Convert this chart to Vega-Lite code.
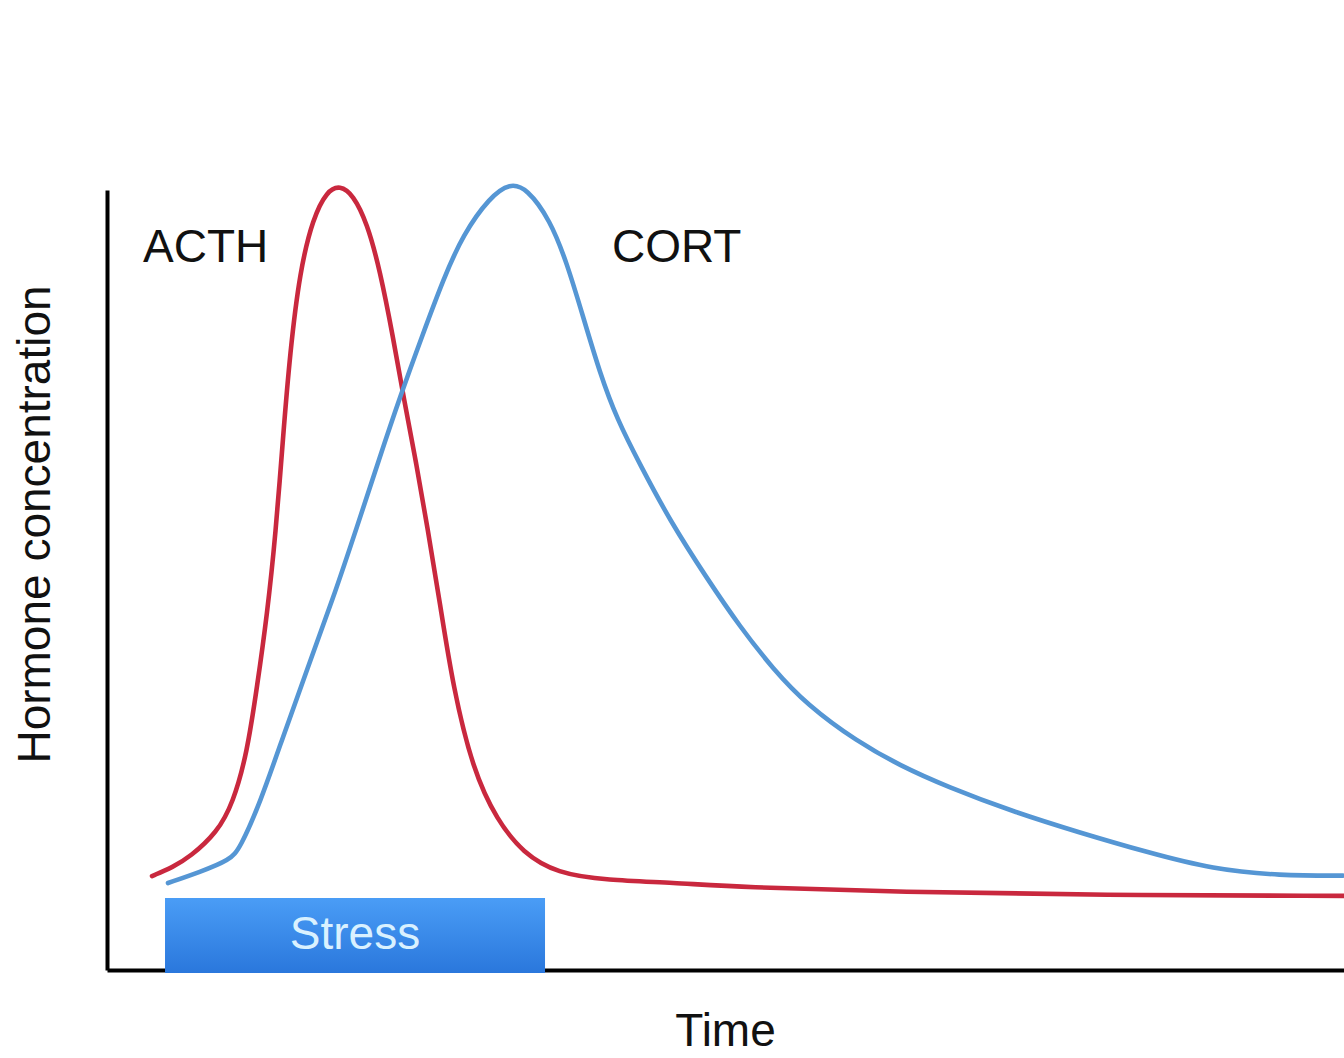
{
  "$schema": "https://vega.github.io/schema/vega-lite/v6.json",
  "width": 1237,
  "height": 780,
  "autosize": {"type": "none"},
  "padding": {"left": 107, "top": 190, "right": 0, "bottom": 88},
  "background": "white",
  "config": {"view": {"stroke": null}, "font": "Liberation Sans"},
  "datasets": {
    "curves": [
      {"hormone": "ACTH", "t": 3.64, "c": 12.05},
      {"hormone": "ACTH", "t": 5.34, "c": 13.2},
      {"hormone": "ACTH", "t": 6.71, "c": 14.5},
      {"hormone": "ACTH", "t": 8.89, "c": 17.6},
      {"hormone": "ACTH", "t": 10.19, "c": 21.4},
      {"hormone": "ACTH", "t": 11.32, "c": 27.8},
      {"hormone": "ACTH", "t": 12.13, "c": 36.3},
      {"hormone": "ACTH", "t": 12.94, "c": 45.5},
      {"hormone": "ACTH", "t": 13.64, "c": 56.0},
      {"hormone": "ACTH", "t": 14.23, "c": 68.3},
      {"hormone": "ACTH", "t": 14.79, "c": 79.1},
      {"hormone": "ACTH", "t": 15.6, "c": 89.7},
      {"hormone": "ACTH", "t": 16.65, "c": 96.4},
      {"hormone": "ACTH", "t": 17.79, "c": 99.9},
      {"hormone": "ACTH", "t": 18.84, "c": 100.6},
      {"hormone": "ACTH", "t": 19.89, "c": 99.4},
      {"hormone": "ACTH", "t": 21.02, "c": 95.8},
      {"hormone": "ACTH", "t": 22.07, "c": 89.7},
      {"hormone": "ACTH", "t": 23.12, "c": 81.2},
      {"hormone": "ACTH", "t": 24.0, "c": 73.2},
      {"hormone": "ACTH", "t": 25.0, "c": 65.0},
      {"hormone": "ACTH", "t": 25.9, "c": 56.8},
      {"hormone": "ACTH", "t": 26.92, "c": 47.0},
      {"hormone": "ACTH", "t": 27.97, "c": 36.3},
      {"hormone": "ACTH", "t": 29.59, "c": 25.6},
      {"hormone": "ACTH", "t": 31.53, "c": 19.2},
      {"hormone": "ACTH", "t": 33.63, "c": 15.0},
      {"hormone": "ACTH", "t": 36.38, "c": 12.4},
      {"hormone": "ACTH", "t": 40.42, "c": 11.5},
      {"hormone": "ACTH", "t": 45.76, "c": 11.2},
      {"hormone": "ACTH", "t": 51.17, "c": 10.6},
      {"hormone": "ACTH", "t": 64.11, "c": 10.0},
      {"hormone": "ACTH", "t": 80.27, "c": 9.6},
      {"hormone": "ACTH", "t": 100, "c": 9.5},
      {"hormone": "CORT", "t": 4.93, "c": 11.15},
      {"hormone": "CORT", "t": 7.52, "c": 12.56},
      {"hormone": "CORT", "t": 9.94, "c": 14.1},
      {"hormone": "CORT", "t": 10.75, "c": 15.6},
      {"hormone": "CORT", "t": 12.37, "c": 21.4},
      {"hormone": "CORT", "t": 14.23, "c": 29.9},
      {"hormone": "CORT", "t": 16.17, "c": 38.5},
      {"hormone": "CORT", "t": 18.27, "c": 47.6},
      {"hormone": "CORT", "t": 20.21, "c": 56.8},
      {"hormone": "CORT", "t": 22.0, "c": 65.5},
      {"hormone": "CORT", "t": 23.69, "c": 73.5},
      {"hormone": "CORT", "t": 25.55, "c": 81.6},
      {"hormone": "CORT", "t": 27.2, "c": 88.6},
      {"hormone": "CORT", "t": 28.78, "c": 94.3},
      {"hormone": "CORT", "t": 30.96, "c": 99.1},
      {"hormone": "CORT", "t": 32.58, "c": 100.9},
      {"hormone": "CORT", "t": 33.95, "c": 100.2},
      {"hormone": "CORT", "t": 35.81, "c": 96.2},
      {"hormone": "CORT", "t": 37.19, "c": 90.6},
      {"hormone": "CORT", "t": 38.48, "c": 83.8},
      {"hormone": "CORT", "t": 39.85, "c": 76.5},
      {"hormone": "CORT", "t": 41.23, "c": 70.6},
      {"hormone": "CORT", "t": 43.09, "c": 64.8},
      {"hormone": "CORT", "t": 45.51, "c": 57.6},
      {"hormone": "CORT", "t": 48.5, "c": 50.2},
      {"hormone": "CORT", "t": 51.17, "c": 44.0},
      {"hormone": "CORT", "t": 53.84, "c": 38.6},
      {"hormone": "CORT", "t": 56.59, "c": 34.0},
      {"hormone": "CORT", "t": 60.63, "c": 29.3},
      {"hormone": "CORT", "t": 64.11, "c": 26.2},
      {"hormone": "CORT", "t": 67.91, "c": 23.5},
      {"hormone": "CORT", "t": 73.24, "c": 20.3},
      {"hormone": "CORT", "t": 78.66, "c": 17.6},
      {"hormone": "CORT", "t": 84.07, "c": 15.1},
      {"hormone": "CORT", "t": 89.41, "c": 12.9},
      {"hormone": "CORT", "t": 94.83, "c": 12.1},
      {"hormone": "CORT", "t": 99.92, "c": 12.1}
    ],
    "stress": [
      {"label": "Stress", "t": 4.69, "t2": 35.41, "c": -0.4, "c2": 9.23}
    ],
    "stressLabel": [
      {"label": "Stress", "t": 20.05, "c": 4.49}
    ],
    "labels": [
      {"label": "ACTH", "t": 2.91, "c": 90.77},
      {"label": "CORT", "t": 40.82, "c": 90.77}
    ]
  },
  "layer": [
    {
      "data": {"name": "curves"},
      "mark": {"type": "line", "strokeWidth": 4.6, "interpolate": "basis", "strokeCap": "round", "clip": false},
      "encoding": {
        "x": {
          "field": "t", "type": "quantitative",
          "scale": {"domain": [0, 100], "nice": false, "zero": false},
          "axis": {
            "title": "Time", "ticks": false, "labels": false, "grid": false,
            "domainColor": "#000000", "domainWidth": 4,
            "titleFont": "Liberation Sans", "titleFontSize": 46, "titleFontWeight": "normal", "titleColor": "#111111",
            "titleX": 618, "titleY": 75, "titleBaseline": "alphabetic", "titleAlign": "center"
          }
        },
        "y": {
          "field": "c", "type": "quantitative",
          "scale": {"domain": [0, 100], "nice": false, "zero": false},
          "axis": {
            "title": "Hormone concentration", "ticks": false, "labels": false, "grid": false,
            "domainColor": "#000000", "domainWidth": 4,
            "titleFont": "Liberation Sans", "titleFontSize": 46, "titleFontWeight": "normal", "titleColor": "#111111",
            "titleAngle": -90, "titleX": -58, "titleY": 334, "titleBaseline": "alphabetic", "titleAlign": "center"
          }
        },
        "color": {
          "field": "hormone", "type": "nominal",
          "scale": {"domain": ["ACTH", "CORT"], "range": ["#c9283e", "#5596d4"]},
          "legend": null
        }
      }
    },
    {
      "data": {"name": "stress"},
      "mark": {
        "type": "rect",
        "color": {
          "gradient": "linear", "x1": 0, "y1": 0, "x2": 0, "y2": 1,
          "stops": [{"offset": 0, "color": "#4a9df6"}, {"offset": 1, "color": "#2a77dc"}]
        }
      },
      "encoding": {
        "x": {"field": "t", "type": "quantitative"},
        "x2": {"field": "t2"},
        "y": {"field": "c", "type": "quantitative"},
        "y2": {"field": "c2"}
      }
    },
    {
      "data": {"name": "stressLabel"},
      "mark": {"type": "text", "font": "Liberation Sans", "fontSize": 46, "color": "#d9f1ff", "align": "center", "baseline": "middle"},
      "encoding": {
        "x": {"field": "t", "type": "quantitative"},
        "y": {"field": "c", "type": "quantitative"},
        "text": {"field": "label"}
      }
    },
    {
      "data": {"name": "labels"},
      "mark": {"type": "text", "font": "Liberation Sans", "fontSize": 46, "color": "#111111", "align": "left", "baseline": "alphabetic"},
      "encoding": {
        "x": {"field": "t", "type": "quantitative"},
        "y": {"field": "c", "type": "quantitative"},
        "text": {"field": "label"}
      }
    }
  ]
}
